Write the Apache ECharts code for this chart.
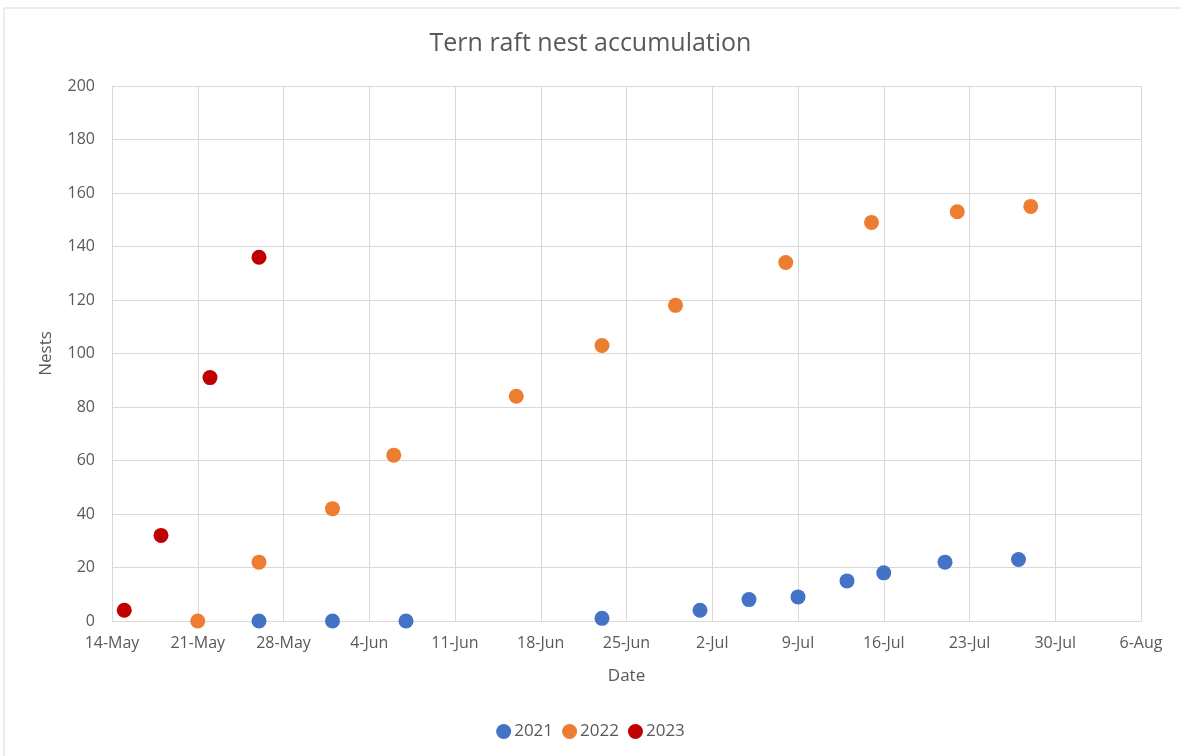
<!DOCTYPE html>
<html>
<head>
<meta charset="utf-8">
<script src="https://cdn.jsdelivr.net/npm/echarts@6/dist/echarts.min.js"></script>
<style>
html,body{margin:0;padding:0;background:#fff;}
#chart{width:1181px;height:756px;}
</style>
</head>
<body>
<div id="chart"></div>
<script>
// Dates (day-month) and nest counts per season
const dates2021 = ['26-May','1-Jun','7-Jun','23-Jun','1-Jul','5-Jul','9-Jul','13-Jul','16-Jul','21-Jul','27-Jul'];
const nests2021 = [0,0,0,1,4,8,9,15,18,22,23];
const dates2022 = ['21-May','26-May','1-Jun','6-Jun','16-Jun','23-Jun','29-Jun','8-Jul','15-Jul','22-Jul','28-Jul'];
const nests2022 = [0,22,42,62,84,103,118,134,149,153,155];
const dates2023 = ['15-May','18-May','22-May','26-May'];
const nests2023 = [4,32,91,136];
const xTickLabels = ['14-May','21-May','28-May','4-Jun','11-Jun','18-Jun','25-Jun','2-Jul','9-Jul','16-Jul','23-Jul','30-Jul','6-Aug'];
const seriesNames = ['2021','2022','2023'];
const colors = ['#4472C4','#ED7D31','#C00000'];

const months = {May:4,Jun:5,Jul:6,Aug:7};
function dayIndex(s){
  const [d,m] = s.split('-');
  const base = Date.UTC(2000,4,14);
  return Math.round((Date.UTC(2000,months[m],+d)-base)/86400000);
}
function pairs(ds,vs){return ds.map((d,i)=>[dayIndex(d),vs[i]]);}
const allData = [pairs(dates2021,nests2021),pairs(dates2022,nests2022),pairs(dates2023,nests2023)];

const chart = echarts.init(document.getElementById('chart'));
const font = 'Open Sans';
chart.setOption({
  animation:false,
  color:colors,
  graphic:[{type:'rect',shape:{x:4,y:8,width:1190,height:760},style:{fill:'none',stroke:'#d9d9d9',lineWidth:1},silent:true}],
  title:{text:'Tern raft nest accumulation',left:'center',top:26,
    textStyle:{fontFamily:font,fontSize:25,fontWeight:'normal',color:'#595959'}},
  legend:{bottom:11,left:'center',itemWidth:15,itemHeight:15,itemGap:9,
    data:seriesNames.map(n=>({name:n,icon:'circle'})),
    textStyle:{fontFamily:font,fontSize:17,color:'#595959',padding:[0,0,0,-2]}},
  grid:{left:112,right:40,top:86,bottom:135},
  xAxis:{type:'value',min:0,max:84,interval:7,name:'Date',nameLocation:'middle',nameGap:47,
    nameTextStyle:{fontFamily:font,fontSize:17,color:'#595959'},
    axisLine:{show:true,lineStyle:{color:'#d9d9d9'}},axisTick:{show:false},
    axisLabel:{fontFamily:font,fontSize:16,color:'#595959',margin:14,
      formatter:v=>xTickLabels[Math.round(v/7)]||''},
    splitLine:{show:true,lineStyle:{color:'#d9d9d9'}}},
  yAxis:{type:'value',min:0,max:200,interval:20,name:'Nests',nameLocation:'middle',nameGap:57,
    nameTextStyle:{fontFamily:font,fontSize:17,color:'#595959'},
    axisLine:{show:false},axisTick:{show:false},
    axisLabel:{fontFamily:font,fontSize:16,color:'#595959',margin:17},
    splitLine:{show:true,lineStyle:{color:'#d9d9d9'}}},
  series:seriesNames.map((n,i)=>({name:n,type:'scatter',symbol:'circle',symbolSize:15,
    itemStyle:{color:colors[i],opacity:1},data:allData[i]}))
});
</script>
</body>
</html>
